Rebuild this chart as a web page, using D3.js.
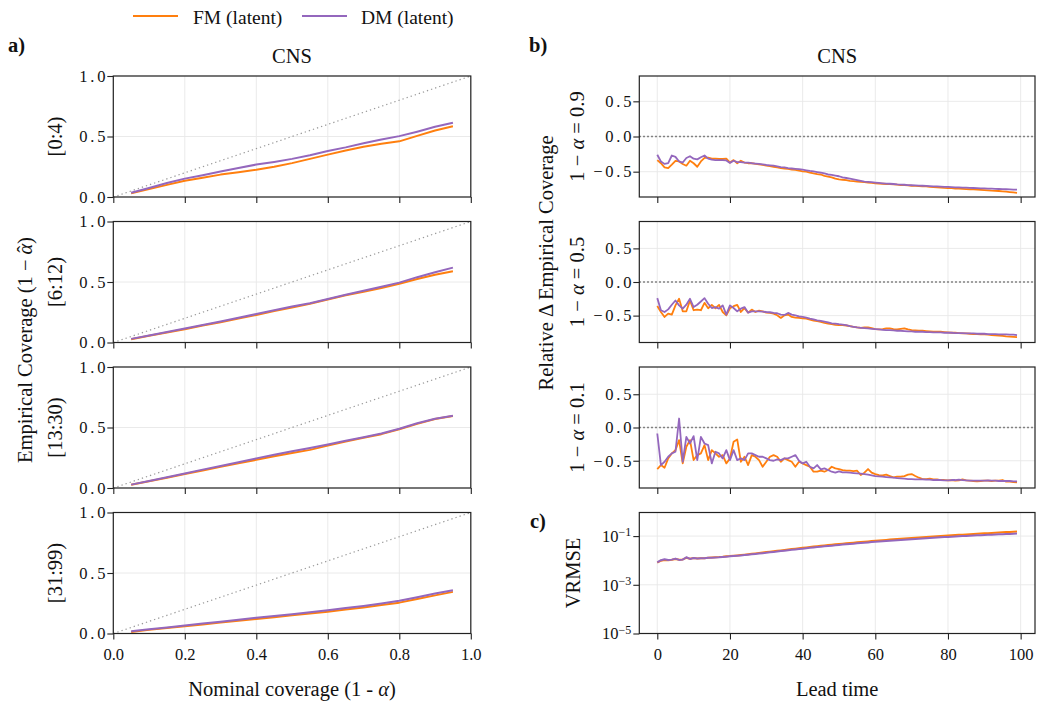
<!DOCTYPE html>
<html>
<head>
<meta charset="utf-8">
<style>
  body { margin: 0; background: #fff; }
  #chart { display: block; font-family: "Liberation Serif", "DejaVu Serif", serif; }
</style>
</head>
<body>
<svg id="chart" width="1039" height="706"></svg>
<script src="https://cdnjs.cloudflare.com/ajax/libs/d3/7.8.5/d3.min.js"></script>
<script>
// ---- data ----
const models = ['FM (latent)', 'DM (latent)'];
const leadRanges = ['[0:4)', '[6:12)', '[13:30)', '[31:99)'];
const alphaLevels = ['0.9', '0.5', '0.1'];

const nominal = [0.05, 0.10, 0.15, 0.20, 0.25, 0.30, 0.35, 0.40, 0.45, 0.50,
                 0.55, 0.60, 0.65, 0.70, 0.75, 0.80, 0.85, 0.90, 0.95];

const fmCov_0_4 = [0.03, 0.065, 0.10, 0.135, 0.16, 0.185, 0.205, 0.225, 0.25, 0.28,
                   0.315, 0.35, 0.385, 0.415, 0.44, 0.46, 0.505, 0.55, 0.585];
const dmCov_0_4 = [0.035, 0.075, 0.115, 0.152, 0.18, 0.21, 0.24, 0.268, 0.29, 0.315,
                   0.345, 0.38, 0.41, 0.445, 0.475, 0.503, 0.54, 0.58, 0.613];
const fmCov_6_12 = [0.027, 0.055, 0.083, 0.11, 0.14, 0.168, 0.198, 0.227, 0.26, 0.29,
                    0.32, 0.355, 0.39, 0.42, 0.45, 0.485, 0.525, 0.56, 0.589];
const dmCov_6_12 = [0.03, 0.058, 0.087, 0.115, 0.145, 0.174, 0.204, 0.235, 0.267, 0.297,
                    0.325, 0.36, 0.395, 0.428, 0.46, 0.495, 0.54, 0.58, 0.619];
const fmCov_13_30 = [0.027, 0.055, 0.085, 0.115, 0.145, 0.175, 0.205, 0.233, 0.262, 0.29,
                     0.315, 0.35, 0.385, 0.415, 0.445, 0.485, 0.53, 0.57, 0.595];
const dmCov_13_30 = [0.028, 0.057, 0.088, 0.12, 0.152, 0.182, 0.213, 0.245, 0.275, 0.303,
                     0.33, 0.36, 0.39, 0.42, 0.45, 0.49, 0.535, 0.572, 0.597];
const fmCov_31_99 = [0.012, 0.03, 0.045, 0.06, 0.075, 0.09, 0.105, 0.12, 0.135, 0.15,
                     0.165, 0.18, 0.198, 0.215, 0.235, 0.255, 0.285, 0.315, 0.344];
const dmCov_31_99 = [0.018, 0.035, 0.05, 0.066, 0.082, 0.098, 0.113, 0.13, 0.145, 0.16,
                     0.175, 0.192, 0.21, 0.228, 0.248, 0.27, 0.3, 0.33, 0.358];

const leadTimes = d3.range(100);

const fmDelta_09 = [
  -0.335, -0.38, -0.44, -0.45, -0.40, -0.345, -0.355, -0.39, -0.415, -0.345,
  -0.38, -0.43, -0.355, -0.305, -0.30, -0.315, -0.315, -0.32, -0.32, -0.315,
  -0.37, -0.335, -0.38, -0.345, -0.37, -0.38, -0.38, -0.39, -0.395, -0.405,
  -0.415, -0.42, -0.43, -0.44, -0.45, -0.455, -0.46, -0.47, -0.475, -0.485,
  -0.495, -0.50, -0.515, -0.525, -0.535, -0.54, -0.56, -0.57, -0.58, -0.60,
  -0.61, -0.615, -0.62, -0.63, -0.635, -0.64, -0.645, -0.65, -0.655, -0.66,
  -0.665, -0.67, -0.672, -0.675, -0.678, -0.68, -0.685, -0.69, -0.692, -0.695,
  -0.70, -0.703, -0.705, -0.708, -0.71, -0.715, -0.72, -0.722, -0.725, -0.73,
  -0.733, -0.735, -0.74, -0.742, -0.745, -0.748, -0.75, -0.752, -0.755, -0.758,
  -0.762, -0.765, -0.77, -0.772, -0.775, -0.78, -0.785, -0.79, -0.795, -0.80];
const dmDelta_09 = [
  -0.26, -0.355, -0.39, -0.38, -0.27, -0.29, -0.355, -0.37, -0.305, -0.28,
  -0.315, -0.325, -0.295, -0.27, -0.315, -0.33, -0.335, -0.335, -0.335, -0.34,
  -0.375, -0.345, -0.365, -0.365, -0.37, -0.37, -0.38, -0.385, -0.39, -0.395,
  -0.405, -0.41, -0.415, -0.425, -0.435, -0.44, -0.45, -0.455, -0.46, -0.465,
  -0.47, -0.48, -0.49, -0.495, -0.505, -0.515, -0.525, -0.54, -0.545, -0.555,
  -0.565, -0.58, -0.59, -0.60, -0.61, -0.62, -0.63, -0.64, -0.645, -0.65,
  -0.655, -0.66, -0.665, -0.67, -0.672, -0.675, -0.68, -0.683, -0.686, -0.69,
  -0.693, -0.695, -0.698, -0.70, -0.703, -0.705, -0.708, -0.71, -0.712, -0.715,
  -0.717, -0.72, -0.722, -0.724, -0.726, -0.728, -0.73, -0.732, -0.734, -0.736,
  -0.738, -0.74, -0.742, -0.744, -0.746, -0.748, -0.75, -0.752, -0.754, -0.756];

const fmDelta_05 = [
  -0.358, -0.446, -0.52, -0.47, -0.485, -0.348, -0.25, -0.436, -0.436, -0.275,
  -0.42, -0.41, -0.42, -0.31, -0.39, -0.34, -0.39, -0.34, -0.446, -0.495,
  -0.39, -0.36, -0.34, -0.446, -0.39, -0.456, -0.41, -0.446, -0.426, -0.436,
  -0.456, -0.46, -0.47, -0.495, -0.534, -0.495, -0.485, -0.52, -0.53, -0.534,
  -0.54, -0.544, -0.56, -0.573, -0.583, -0.593, -0.608, -0.618, -0.627, -0.637,
  -0.642, -0.642, -0.647, -0.657, -0.667, -0.676, -0.681, -0.676, -0.676, -0.686,
  -0.70, -0.706, -0.70, -0.691, -0.691, -0.70, -0.706, -0.696, -0.691, -0.706,
  -0.716, -0.72, -0.725, -0.725, -0.73, -0.735, -0.74, -0.74, -0.74, -0.745,
  -0.75, -0.755, -0.755, -0.76, -0.765, -0.765, -0.77, -0.775, -0.775, -0.78,
  -0.78, -0.784, -0.789, -0.794, -0.799, -0.80, -0.81, -0.813, -0.817, -0.82];
const dmDelta_05 = [
  -0.24, -0.42, -0.446, -0.407, -0.338, -0.275, -0.348, -0.397, -0.338, -0.25,
  -0.373, -0.338, -0.29, -0.24, -0.324, -0.387, -0.373, -0.397, -0.348, -0.485,
  -0.348, -0.387, -0.436, -0.397, -0.373, -0.456, -0.436, -0.436, -0.436, -0.44,
  -0.446, -0.45, -0.46, -0.465, -0.485, -0.49, -0.46, -0.485, -0.495, -0.51,
  -0.52, -0.53, -0.544, -0.555, -0.57, -0.58, -0.59, -0.60, -0.615, -0.62,
  -0.628, -0.633, -0.64, -0.657, -0.667, -0.676, -0.681, -0.686, -0.691, -0.696,
  -0.70, -0.706, -0.711, -0.716, -0.716, -0.72, -0.725, -0.725, -0.73, -0.735,
  -0.735, -0.74, -0.74, -0.74, -0.745, -0.745, -0.75, -0.75, -0.75, -0.755,
  -0.755, -0.755, -0.76, -0.76, -0.76, -0.765, -0.765, -0.765, -0.77, -0.77,
  -0.77, -0.775, -0.775, -0.775, -0.78, -0.78, -0.78, -0.784, -0.784, -0.79];

const fmDelta_01 = [
  -0.625, -0.565, -0.605, -0.465, -0.39, -0.34, -0.19, -0.54, -0.29, -0.19,
  -0.49, -0.415, -0.39, -0.265, -0.49, -0.34, -0.39, -0.44, -0.415, -0.54,
  -0.465, -0.215, -0.18, -0.515, -0.44, -0.565, -0.415, -0.44, -0.49, -0.59,
  -0.515, -0.44, -0.415, -0.44, -0.515, -0.465, -0.49, -0.515, -0.59, -0.515,
  -0.54, -0.565, -0.59, -0.665, -0.665, -0.65, -0.665, -0.64, -0.59, -0.615,
  -0.625, -0.64, -0.65, -0.65, -0.655, -0.65, -0.715, -0.68, -0.625, -0.68,
  -0.70, -0.715, -0.72, -0.71, -0.73, -0.75, -0.74, -0.74, -0.73, -0.71,
  -0.70, -0.73, -0.755, -0.775, -0.775, -0.77, -0.78, -0.78, -0.79, -0.79,
  -0.795, -0.79, -0.80, -0.795, -0.78, -0.795, -0.80, -0.805, -0.81, -0.805,
  -0.80, -0.80, -0.805, -0.80, -0.80, -0.79, -0.815, -0.815, -0.82, -0.825];
const dmDelta_01 = [
  -0.09, -0.565, -0.515, -0.44, -0.39, -0.365, 0.135, -0.515, -0.14, -0.24,
  -0.13, -0.49, -0.14, -0.24, -0.265, -0.54, -0.365, -0.39, -0.465, -0.34,
  -0.49, -0.34, -0.49, -0.465, -0.49, -0.39, -0.39, -0.415, -0.44, -0.44,
  -0.465, -0.49, -0.50, -0.48, -0.49, -0.465, -0.465, -0.44, -0.415, -0.50,
  -0.54, -0.515, -0.59, -0.615, -0.565, -0.63, -0.615, -0.64, -0.665, -0.68,
  -0.66, -0.675, -0.675, -0.68, -0.685, -0.69, -0.695, -0.70, -0.71, -0.72,
  -0.73, -0.735, -0.74, -0.745, -0.75, -0.755, -0.76, -0.765, -0.77, -0.775,
  -0.775, -0.78, -0.78, -0.78, -0.785, -0.785, -0.79, -0.79, -0.79, -0.795,
  -0.795, -0.79, -0.79, -0.785, -0.79, -0.795, -0.80, -0.80, -0.80, -0.80,
  -0.80, -0.795, -0.80, -0.80, -0.805, -0.805, -0.805, -0.805, -0.81, -0.81];

const fmVrmse = [
  0.0082, 0.0098, 0.0105, 0.0102, 0.0107, 0.0115, 0.0106, 0.0110, 0.0128, 0.0117,
  0.0125, 0.0120, 0.0124, 0.0122, 0.0130, 0.0133, 0.0136, 0.0138, 0.0142, 0.0150,
  0.0151, 0.0156, 0.0161, 0.0167, 0.0173, 0.0180, 0.0187, 0.0195, 0.0203, 0.0211,
  0.0220, 0.0229, 0.0238, 0.0248, 0.0258, 0.0269, 0.0280, 0.0292, 0.0304, 0.0316,
  0.0330, 0.0343, 0.0356, 0.0370, 0.0384, 0.0398, 0.0413, 0.0428, 0.0443, 0.0459,
  0.0475, 0.0490, 0.0506, 0.0522, 0.0538, 0.0555, 0.0572, 0.0589, 0.0606, 0.0624,
  0.0642, 0.0660, 0.0678, 0.0697, 0.0716, 0.0735, 0.0754, 0.0774, 0.0794, 0.0814,
  0.0834, 0.0855, 0.0876, 0.0897, 0.0918, 0.0940, 0.0962, 0.0984, 0.1006, 0.1029,
  0.1052, 0.1075, 0.1098, 0.1122, 0.1146, 0.1170, 0.1195, 0.1220, 0.1245, 0.1270,
  0.1296, 0.1322, 0.1348, 0.1375, 0.1402, 0.1429, 0.1456, 0.1484, 0.1512, 0.1540];
const dmVrmse = [
  0.0084, 0.0102, 0.0112, 0.0105, 0.0108, 0.0119, 0.0105, 0.0108, 0.0135, 0.0115,
  0.0126, 0.0119, 0.0123, 0.0123, 0.0128, 0.0130, 0.0133, 0.0135, 0.0139, 0.0143,
  0.0147, 0.0151, 0.0156, 0.0161, 0.0166, 0.0172, 0.0178, 0.0185, 0.0192, 0.0199,
  0.0207, 0.0215, 0.0224, 0.0233, 0.0242, 0.0252, 0.0262, 0.0272, 0.0283, 0.0294,
  0.0305, 0.0317, 0.0329, 0.0341, 0.0353, 0.0366, 0.0379, 0.0392, 0.0405, 0.0419,
  0.0433, 0.0447, 0.0461, 0.0475, 0.0490, 0.0505, 0.0520, 0.0535, 0.0550, 0.0566,
  0.0582, 0.0598, 0.0614, 0.0630, 0.0646, 0.0663, 0.0680, 0.0697, 0.0714, 0.0731,
  0.0748, 0.0765, 0.0782, 0.0800, 0.0818, 0.0836, 0.0854, 0.0872, 0.0890, 0.0908,
  0.0926, 0.0944, 0.0962, 0.0980, 0.0998, 0.1016, 0.1034, 0.1052, 0.1070, 0.1088,
  0.1106, 0.1124, 0.1142, 0.1160, 0.1178, 0.1196, 0.1214, 0.1232, 0.1250, 0.1268];

const coverageRows = [[fmCov_0_4, dmCov_0_4], [fmCov_6_12, dmCov_6_12],
                      [fmCov_13_30, dmCov_13_30], [fmCov_31_99, dmCov_31_99]];
const deltaRows = [[fmDelta_09, dmDelta_09], [fmDelta_05, dmDelta_05], [fmDelta_01, dmDelta_01]];
const deltaLimits = [0.86, 0.9, 0.91];

// ---- layout ----
const colors = ['#ff7f0e', '#9467bd'];
const rowTops = [76, 221.5, 367, 512.5];
const panelH = 121;
const leftCol = { x0: 113.3, x1: 470.8 };
const rightCol = { x0: 639.3, x1: 1035 };
const tickFont = 16.5;
const labelFont = 20.5;
const ink = '#222';
const serif = '"Liberation Serif", "DejaVu Serif", serif';

const svg = d3.select('#chart');

function styleAxis(g) {
  g.attr('font-family', null).attr('font-size', null);
  g.select('.domain').remove();
  g.selectAll('.tick line').attr('stroke', ink).attr('stroke-width', 1.1);
  g.selectAll('.tick text').attr('fill', '#111')
    .style('font-size', tickFont + 'px').style('font-family', serif);
}

function drawGrid(g, x, y, xt, yt, w, h) {
  g.append('g').selectAll('line').data(xt).join('line')
    .attr('x1', d => x(d)).attr('x2', d => x(d)).attr('y1', 0).attr('y2', h)
    .attr('stroke', '#e8e8e8').attr('stroke-width', 0.9);
  g.append('g').selectAll('line').data(yt).join('line')
    .attr('x1', 0).attr('x2', w).attr('y1', d => y(d)).attr('y2', d => y(d))
    .attr('stroke', '#e8e8e8').attr('stroke-width', 0.9);
}

function drawFrame(g, w, h) {
  g.append('rect').attr('width', w).attr('height', h)
    .attr('fill', 'none').attr('stroke', ink).attr('stroke-width', 1.2);
}

// the y tick labels in the figure are set a little wider than plain text
function spacedYLabels(g) {
  g.selectAll('.tick text').attr('x', -5).style('letter-spacing', '2.8px');
}

function addParts(t, parts) {
  parts.forEach(p => {
    const s = t.append('tspan').text(p.t);
    if (p.i) s.style('font-style', 'italic');
    if (p.dx) s.attr('dx', p.dx);
    if (p.dy) s.attr('dy', p.dy);
  });
}

function vLabel(x, y, parts, size) {
  const t = svg.append('text')
    .attr('transform', `translate(${x},${y}) rotate(-90)`)
    .attr('text-anchor', 'middle')
    .style('font-size', size + 'px').attr('fill', '#111');
  addParts(t, parts);
  return t;
}

function hLabel(x, y, parts, size, anchor, bold) {
  const t = svg.append('text').attr('x', x).attr('y', y)
    .attr('text-anchor', anchor || 'middle')
    .style('font-size', size + 'px').attr('fill', '#111');
  if (bold) t.style('font-weight', 'bold');
  addParts(t, parts);
  return t;
}

// ---- left column: calibration curves ----
const lw = leftCol.x1 - leftCol.x0;
const xCov = d3.scaleLinear().domain([0, 1]).range([0, lw]);
const yCov = d3.scaleLinear().domain([0, 1]).range([panelH, 0]);
const covXTicks = [0, 0.2, 0.4, 0.6, 0.8, 1.0];
const covYTicks = [0, 0.5, 1.0];

coverageRows.forEach((row, r) => {
  const g = svg.append('g').attr('transform', `translate(${leftCol.x0},${rowTops[r]})`);
  drawGrid(g, xCov, yCov, covXTicks, covYTicks, lw, panelH);

  g.append('line')
    .attr('x1', xCov(0)).attr('y1', yCov(0)).attr('x2', xCov(1)).attr('y2', yCov(1))
    .attr('stroke', '#999').attr('stroke-width', 1.2).attr('stroke-dasharray', '1.3,3');

  const line = d3.line().x((d, i) => xCov(nominal[i])).y(d => yCov(d));
  row.forEach((series, k) => {
    g.append('path').datum(series).attr('d', line)
      .attr('fill', 'none').attr('stroke', colors[k]).attr('stroke-width', 2)
      .attr('stroke-linejoin', 'round');
  });

  const ax = g.append('g').attr('transform', `translate(0,${panelH})`)
    .call(d3.axisBottom(xCov).tickValues(covXTicks).tickSize(6).tickPadding(9)
      .tickFormat(r === 3 ? d3.format('.1f') : ''));
  styleAxis(ax);
  const ay = g.append('g')
    .call(d3.axisLeft(yCov).tickValues(covYTicks).tickSize(6).tickFormat(d3.format('.1f')));
  styleAxis(ay);
  spacedYLabels(ay);
  drawFrame(g, lw, panelH);

  vLabel(62, rowTops[r] + panelH / 2, [{ t: leadRanges[r] }], labelFont);
});

// ---- right column: relative coverage difference ----
const rw = rightCol.x1 - rightCol.x0;
const xLead = d3.scaleLinear().domain([-4.95, 103.95]).range([0, rw]);
const leadTicks = [0, 20, 40, 60, 80, 100];

deltaRows.forEach((row, r) => {
  const lim = deltaLimits[r];
  const y = d3.scaleLinear().domain([-lim, lim]).range([panelH, 0]);
  const yt = [-0.5, 0, 0.5];
  const g = svg.append('g').attr('transform', `translate(${rightCol.x0},${rowTops[r]})`);
  drawGrid(g, xLead, y, leadTicks, yt, rw, panelH);

  g.append('line').attr('x1', 0).attr('x2', rw).attr('y1', y(0)).attr('y2', y(0))
    .attr('stroke', '#555').attr('stroke-width', 1.3).attr('stroke-dasharray', '1.4,2.6');

  const line = d3.line().x((d, i) => xLead(leadTimes[i])).y(d => y(d));
  row.forEach((series, k) => {
    g.append('path').datum(series).attr('d', line)
      .attr('fill', 'none').attr('stroke', colors[k]).attr('stroke-width', 1.8)
      .attr('stroke-linejoin', 'round');
  });

  const ax = g.append('g').attr('transform', `translate(0,${panelH})`)
    .call(d3.axisBottom(xLead).tickValues(leadTicks).tickSize(6).tickFormat(''));
  styleAxis(ax);
  const ay = g.append('g')
    .call(d3.axisLeft(y).tickValues(yt).tickSize(6).tickFormat(d3.format('.1f')));
  styleAxis(ay);
  spacedYLabels(ay);
  drawFrame(g, rw, panelH);

  vLabel(584, rowTops[r] + panelH / 2,
    [{ t: '1 \u2212 ' }, { t: 'α', i: true }, { t: ' = ' + alphaLevels[r] }], labelFont);
});

// ---- VRMSE panel ----
{
  const top = rowTops[3];
  const y = d3.scaleLog().domain([1e-5, 0.93]).range([panelH, 0]);
  const yt = [1e-5, 1e-3, 1e-1];
  const g = svg.append('g').attr('transform', `translate(${rightCol.x0},${top})`);
  drawGrid(g, xLead, y, leadTicks, yt, rw, panelH);

  const line = d3.line().x((d, i) => xLead(leadTimes[i])).y(d => y(d));
  [fmVrmse, dmVrmse].forEach((series, k) => {
    g.append('path').datum(series).attr('d', line)
      .attr('fill', 'none').attr('stroke', colors[k]).attr('stroke-width', 2)
      .attr('stroke-linejoin', 'round');
  });

  const ax = g.append('g').attr('transform', `translate(0,${panelH})`)
    .call(d3.axisBottom(xLead).tickValues(leadTicks).tickSize(6).tickPadding(9));
  styleAxis(ax);
  const ay = g.append('g')
    .call(d3.axisLeft(y).tickValues(yt).tickSize(6).tickFormat(''));
  styleAxis(ay);
  ay.selectAll('.tick').each(function (d) {
    const t = d3.select(this).append('text')
      .attr('x', -8).attr('dy', '0.32em').attr('text-anchor', 'end')
      .attr('fill', '#111').style('font-size', tickFont + 'px').style('font-family', serif);
    t.append('tspan').text('10');
    t.append('tspan').text('\u2212' + Math.round(-Math.log10(d)))
      .attr('dy', '-0.45em').style('font-size', '12px');
  });
  drawFrame(g, rw, panelH);

  vLabel(580, top + panelH / 2, [{ t: 'VRMSE' }], labelFont);
}

// ---- shared labels ----
vLabel(32, 350, [
  { t: 'Empirical Coverage (1 \u2212 ' },
  { t: 'α', i: true },
  { t: '\u02C6', dx: '-0.45em', dy: '-0.02em' },
  { t: ')', dx: '0.1em', dy: '0.02em' }], labelFont);
vLabel(553, 263, [{ t: 'Relative \u0394 Empirical Coverage' }], labelFont);

hLabel((leftCol.x0 + leftCol.x1) / 2, 63, [{ t: 'CNS' }], labelFont);
hLabel((rightCol.x0 + rightCol.x1) / 2, 63, [{ t: 'CNS' }], labelFont);
hLabel((leftCol.x0 + leftCol.x1) / 2, 696,
  [{ t: 'Nominal coverage (1 - ' }, { t: 'α', i: true }, { t: ')' }], labelFont);
hLabel((rightCol.x0 + rightCol.x1) / 2, 696, [{ t: 'Lead time' }], labelFont);

hLabel(8, 52, [{ t: 'a)' }], labelFont, 'start', true);
hLabel(529, 52, [{ t: 'b)' }], labelFont, 'start', true);
hLabel(530, 528, [{ t: 'c)' }], labelFont, 'start', true);

// ---- legend ----
const legendItems = [{ x: 133, tx: 193 }, { x: 302, tx: 361 }];
models.forEach((name, k) => {
  svg.append('line').attr('x1', legendItems[k].x).attr('x2', legendItems[k].x + 45)
    .attr('y1', 16).attr('y2', 16).attr('stroke', colors[k]).attr('stroke-width', 2);
  hLabel(legendItems[k].tx, 23.5, [{ t: name }], 19.5, 'start');
});
</script>
</body>
</html>
